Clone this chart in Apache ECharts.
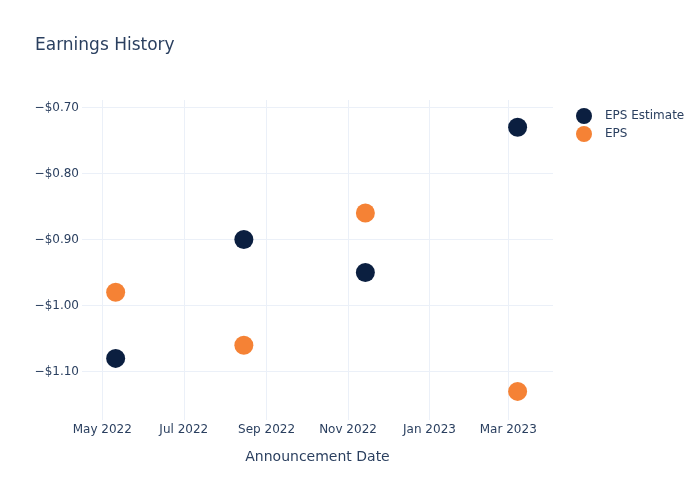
<!DOCTYPE html>
<html>
<head>
<meta charset="utf-8">
<script src="https://cdn.jsdelivr.net/npm/echarts@6/dist/echarts.min.js"></script>
<style>html,body{margin:0;padding:0;background:#fff}#c{width:700px;height:500px}</style>
</head>
<body>
<div id="c"></div>
<script>
const dates = ['2022-05-11', '2022-08-15', '2022-11-14', '2023-03-08'];
const epsEstimate = [-1.08, -0.90, -0.95, -0.73];
const eps = [-0.98, -1.06, -0.86, -1.13];
const yTicks = [-1.1, -1.0, -0.9, -0.8, -0.7];
const xTicks = ['2022-05-01', '2022-07-01', '2022-09-01', '2022-11-01', '2023-01-01', '2023-03-01'];
const monthNames = ['Jan','Feb','Mar','Apr','May','Jun','Jul','Aug','Sep','Oct','Nov','Dec'];

const toTs = s => { const p = s.split('-').map(Number); return Date.UTC(p[0], p[1]-1, p[2]); };
const DAY = 86400000;
const font = 'DejaVu Sans';
const txt = '#2a3f5f';
const grid = '#ebf0f8';

const chart = echarts.init(document.getElementById('c'), null, {renderer: 'canvas'});
chart.setOption({
  animation: false,
  textStyle: {fontFamily: font},
  title: {
    text: 'Earnings History', left: 35, top: 37, padding: 0,
    textStyle: {fontFamily: font, fontSize: 17, fontWeight: 'normal', color: txt}
  },
  legend: {
    orient: 'vertical', left: 576, top: 108, padding: 0,
    itemWidth: 32, itemHeight: 16, itemGap: 2, icon: 'circle',
    textStyle: {fontFamily: font, fontSize: 12, color: txt},
    data: ['EPS Estimate', 'EPS']
  },
  grid: {left: 82, right: 147, top: 100, bottom: 80, containLabel: false},
  xAxis: {
    type: 'value',
    min: toTs('2022-05-01') - 15.2 * DAY,
    max: toTs('2022-05-01') + 337.5 * DAY,
    name: 'Announcement Date', nameLocation: 'middle', nameGap: 30,
    nameTextStyle: {fontFamily: font, fontSize: 14, color: txt},
    axisLine: {show: false},
    axisTick: {show: false, customValues: xTicks.map(toTs)},
    axisLabel: {
      customValues: xTicks.map(toTs), margin: 4, hideOverlap: false,
      showMinLabel: true, showMaxLabel: true,
      fontFamily: font, fontSize: 12, color: txt,
      formatter: v => { const d = new Date(v); return monthNames[d.getUTCMonth()] + ' ' + d.getUTCFullYear(); }
    },
    splitLine: {show: true, lineStyle: {color: grid, width: 1}, customValues: xTicks.map(toTs)}
  },
  yAxis: {
    type: 'value',
    min: -1.1733, max: -0.6888,
    axisLine: {show: false},
    axisTick: {show: false, customValues: yTicks},
    axisLabel: {
      customValues: yTicks, margin: 3,
      fontFamily: font, fontSize: 12, color: txt,
      formatter: v => '\u2212$' + Math.abs(v).toFixed(2)
    },
    splitLine: {show: true, lineStyle: {color: grid, width: 1}, customValues: yTicks}
  },
  series: [
    {
      name: 'EPS Estimate', type: 'scatter', symbolSize: 19,
      itemStyle: {color: '#0b1f40', opacity: 1},
      data: dates.map((d, i) => [toTs(d), epsEstimate[i]])
    },
    {
      name: 'EPS', type: 'scatter', symbolSize: 19,
      itemStyle: {color: '#f58235', opacity: 1},
      data: dates.map((d, i) => [toTs(d), eps[i]])
    }
  ]
});
</script>
</body>
</html>
